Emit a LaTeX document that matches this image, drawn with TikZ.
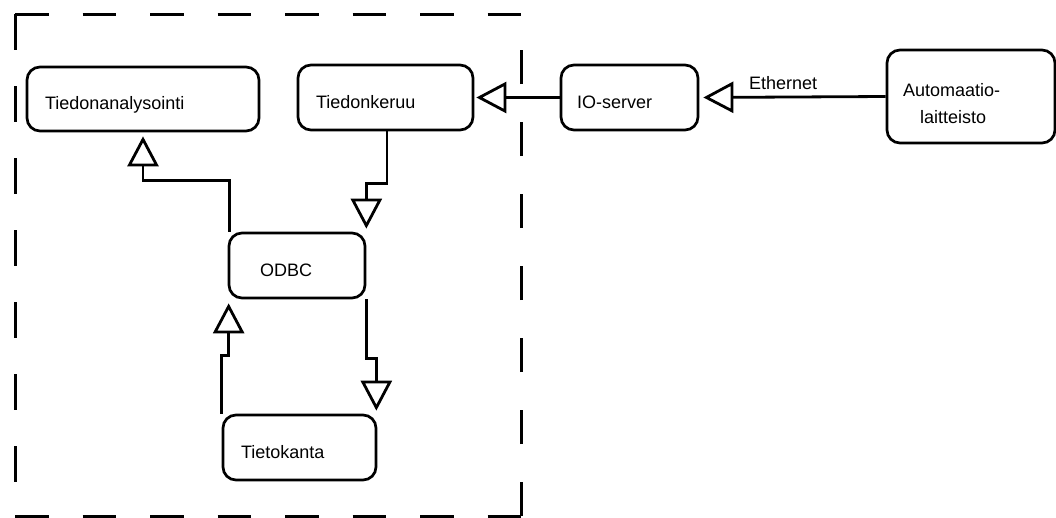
\documentclass[tikz,border=0pt]{standalone}
\usepackage{fontspec}
\setmainfont{Liberation Sans}
\usepackage{tikz}
\usetikzlibrary{arrows.meta}

\begin{document}
\begin{tikzpicture}[x=1pt, y=-1pt]
	% tyylit
	\tikzset{
	roundbox/.style = {draw, rounded corners=13pt, line width=2.7pt, inner xsep=18pt, inner ysep=0pt,
		align=left, text height=21pt, text depth=0pt, font=\fontsize{18}{27}\selectfont},
	arrow/.style = {arrows = {-Triangle[open, length=30pt, width=31pt]}, line width=2.8pt},
	frame/.style = {line width=3pt}
	}
	\useasboundingbox (0,0) rectangle (1056,517);

	% laatikot
	\node (analysis) [roundbox, minimum width=232pt, minimum height=64pt, text width=196pt] at (143,99) {Tiedonanalysointi};
	\node (collect)  [roundbox, minimum width=175pt, minimum height=65pt, text width=139pt] at (385.5,97.5) {Tiedonkeruu};
	\node (io)       [roundbox, minimum width=137pt, minimum height=65pt, inner xsep=16pt, text width=105pt] at (629.5,97.5) {IO-server};
	\node (auto)     [roundbox, minimum width=168pt, minimum height=93pt, inner xsep=16pt, text width=136pt,
		text height=27pt, text depth=27pt] at (971,96.5) {Automaatio-\\\hspace*{17pt}laitteisto};
	\node (odbc)     [roundbox, minimum width=136pt, minimum height=65pt, inner xsep=31pt, text width=74pt] at (297,265.5) {ODBC};
	\node (db)       [roundbox, minimum width=153pt, minimum height=65pt, text width=117pt] at (299.5,447.5) {Tietokanta};

	% katkoviivakehys
	\draw [frame, dash pattern=on 33.5pt off 34pt] (15,14) -- (521,14);
	\draw [frame, dash pattern=on 33.5pt off 34pt] (15,516) -- (521,516);
	\draw [frame, dash pattern=on 36pt off 36pt] (15,14) -- (15,516);
	\draw [frame, dash pattern=on 34pt off 38pt] (521,516) -- (521,14);

	% yhteydet
	\draw [arrow, shorten >=4pt] (auto.west) -- (io.east)
		node (eth) [anchor=base west, xshift=45pt, yshift=8pt, font=\fontsize{18}{22}\selectfont] {Ethernet};
	\draw [arrow, shorten >=2pt] (io.west) -- (collect.east);
	\draw [arrow, shorten >=3pt] ([xshift=1.5pt]collect.south) -- ++(0,52) -| (odbc.north east);
	\draw [arrow, shorten >=4pt] ([xshift=2pt]odbc.north west) -- ++(0,-51) -| (analysis.south);
	\draw [arrow, shorten >=4pt] (db.north west) -- ++(0,-58) -| ([xshift=1pt]odbc.south west);
	\draw [arrow, shorten >=3pt] (odbc.south east) -- ++(0,59) -| ([xshift=-1pt]db.north east);

\end{tikzpicture}
\end{document}
